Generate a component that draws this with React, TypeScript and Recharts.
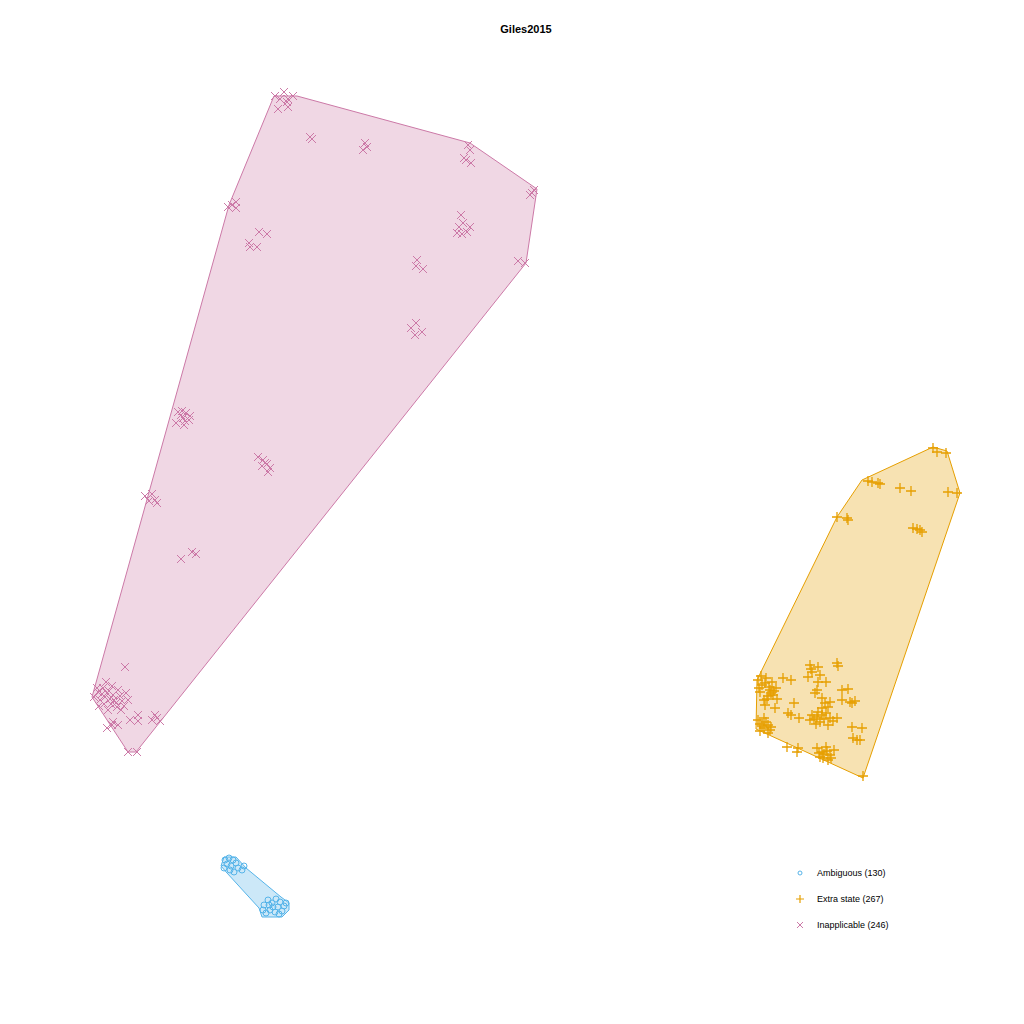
import React from "react";
import { ScatterChart, Scatter, XAxis, YAxis } from "recharts";

// coordinates (0..1024 on both axes, y grows downward)
const ambiguousPoints = [
  { x: 225, y: 860 }, { x: 229, y: 858 }, { x: 233, y: 860 }, { x: 227, y: 864 },
  { x: 231, y: 866 }, { x: 236, y: 863 }, { x: 224, y: 868 }, { x: 238, y: 868 },
  { x: 242, y: 870 }, { x: 244, y: 866 }, { x: 230, y: 870 }, { x: 234, y: 872 },
  { x: 264, y: 905 }, { x: 268, y: 900 }, { x: 272, y: 903 }, { x: 276, y: 899 },
  { x: 280, y: 902 }, { x: 284, y: 906 }, { x: 270, y: 910 }, { x: 266, y: 913 },
  { x: 275, y: 912 }, { x: 282, y: 911 }, { x: 286, y: 903 }, { x: 278, y: 907 },
  { x: 263, y: 910 }, { x: 273, y: 907 }, { x: 279, y: 914 }, { x: 269, y: 905 },
];
const ambiguousHull = [
  { x: 224, y: 857 }, { x: 236, y: 857 }, { x: 246, y: 868 }, { x: 281, y: 897 },
  { x: 289, y: 903 }, { x: 289, y: 910 }, { x: 282, y: 917 }, { x: 262, y: 917 },
  { x: 259, y: 908 }, { x: 227, y: 873 }, { x: 221, y: 866 }, { x: 224, y: 857 },
];

const extraStatePoints = [
  { x: 933, y: 448 }, { x: 937, y: 452 }, { x: 946, y: 453 },
  { x: 868, y: 481 }, { x: 872, y: 482 }, { x: 878, y: 483 }, { x: 880, y: 484 },
  { x: 900, y: 488 }, { x: 911, y: 491 }, { x: 948, y: 492 }, { x: 957, y: 493 },
  { x: 913, y: 528 }, { x: 917, y: 529 }, { x: 920, y: 530 }, { x: 922, y: 532 },
  { x: 837, y: 517 }, { x: 847, y: 518 }, { x: 848, y: 520 },
  { x: 758, y: 680 }, { x: 762, y: 685 }, { x: 766, y: 678 }, { x: 770, y: 690 },
  { x: 760, y: 692 }, { x: 768, y: 696 }, { x: 764, y: 700 }, { x: 772, y: 682 },
  { x: 776, y: 688 }, { x: 773, y: 695 }, { x: 777, y: 699 }, { x: 775, y: 708 },
  { x: 761, y: 676 }, { x: 765, y: 683 }, { x: 769, y: 687 }, { x: 759, y: 688 },
  { x: 771, y: 693 }, { x: 774, y: 691 }, { x: 767, y: 699 },
  { x: 765, y: 705 }, { x: 758, y: 720 }, { x: 762, y: 726 }, { x: 766, y: 722 },
  { x: 770, y: 730 }, { x: 760, y: 731 }, { x: 768, y: 733 }, { x: 764, y: 718 },
  { x: 760, y: 724 }, { x: 764, y: 728 }, { x: 768, y: 725 }, { x: 771, y: 727 },
  { x: 783, y: 678 }, { x: 791, y: 680 }, { x: 794, y: 703 }, { x: 788, y: 713 },
  { x: 791, y: 715 }, { x: 799, y: 718 },
  { x: 810, y: 665 }, { x: 812, y: 672 }, { x: 818, y: 667 }, { x: 820, y: 675 },
  { x: 808, y: 677 }, { x: 837, y: 663 }, { x: 838, y: 666 }, { x: 811, y: 669 },
  { x: 818, y: 682 }, { x: 817, y: 690 }, { x: 826, y: 682 }, { x: 815, y: 693 },
  { x: 822, y: 698 }, { x: 830, y: 702 }, { x: 825, y: 703 }, { x: 828, y: 707 },
  { x: 812, y: 715 }, { x: 817, y: 717 }, { x: 820, y: 722 }, { x: 810, y: 720 },
  { x: 822, y: 715 }, { x: 830, y: 718 }, { x: 837, y: 718 }, { x: 828, y: 725 },
  { x: 814, y: 719 }, { x: 818, y: 712 }, { x: 824, y: 719 }, { x: 826, y: 713 },
  { x: 833, y: 721 }, { x: 816, y: 724 }, { x: 822, y: 708 },
  { x: 842, y: 690 }, { x: 848, y: 689 }, { x: 842, y: 700 },
  { x: 850, y: 702 }, { x: 855, y: 701 }, { x: 852, y: 703 },
  { x: 852, y: 727 }, { x: 862, y: 728 },
  { x: 853, y: 738 }, { x: 860, y: 740 }, { x: 857, y: 740 },
  { x: 787, y: 747 }, { x: 798, y: 748 }, { x: 797, y: 752 },
  { x: 817, y: 748 }, { x: 822, y: 752 }, { x: 826, y: 747 }, { x: 830, y: 755 },
  { x: 820, y: 757 }, { x: 828, y: 760 }, { x: 834, y: 750 }, { x: 824, y: 754 },
  { x: 819, y: 753 }, { x: 827, y: 751 }, { x: 831, y: 758 }, { x: 823, y: 758 },
  { x: 863, y: 776 },
];
const extraStateHull = [
  { x: 933, y: 447 }, { x: 947, y: 451 }, { x: 960, y: 493 }, { x: 863, y: 778 },
  { x: 756, y: 729 }, { x: 757, y: 680 }, { x: 837, y: 517 }, { x: 862, y: 480 },
  { x: 933, y: 447 },
];

const inapplicablePoints = [
  { x: 275, y: 96 }, { x: 284, y: 92 }, { x: 288, y: 99 }, { x: 293, y: 96 },
  { x: 278, y: 109 }, { x: 288, y: 107 }, { x: 280, y: 99 }, { x: 287, y: 102 },
  { x: 310, y: 137 }, { x: 312, y: 139 },
  { x: 365, y: 143 }, { x: 363, y: 150 }, { x: 367, y: 147 },
  { x: 468, y: 145 }, { x: 470, y: 150 }, { x: 464, y: 158 }, { x: 471, y: 163 },
  { x: 466, y: 160 },
  { x: 534, y: 190 }, { x: 532, y: 193 }, { x: 530, y: 195 },
  { x: 228, y: 207 }, { x: 236, y: 202 }, { x: 236, y: 208 }, { x: 232, y: 205 },
  { x: 259, y: 232 }, { x: 267, y: 234 }, { x: 249, y: 243 }, { x: 250, y: 247 },
  { x: 257, y: 247 },
  { x: 461, y: 215 }, { x: 463, y: 223 }, { x: 459, y: 227 }, { x: 470, y: 227 },
  { x: 457, y: 233 }, { x: 462, y: 234 }, { x: 467, y: 232 },
  { x: 417, y: 260 }, { x: 416, y: 266 }, { x: 423, y: 269 },
  { x: 518, y: 261 }, { x: 525, y: 263 },
  { x: 416, y: 323 }, { x: 411, y: 328 }, { x: 422, y: 332 }, { x: 415, y: 335 },
  { x: 178, y: 412 }, { x: 186, y: 413 }, { x: 183, y: 418 }, { x: 189, y: 420 },
  { x: 176, y: 423 }, { x: 184, y: 425 }, { x: 181, y: 415 }, { x: 190, y: 416 },
  { x: 185, y: 421 }, { x: 182, y: 411 },
  { x: 258, y: 457 }, { x: 263, y: 460 }, { x: 267, y: 464 }, { x: 262, y: 466 },
  { x: 270, y: 468 }, { x: 268, y: 472 }, { x: 265, y: 463 },
  { x: 145, y: 496 }, { x: 152, y: 494 }, { x: 155, y: 500 }, { x: 149, y: 501 },
  { x: 157, y: 503 },
  { x: 181, y: 559 }, { x: 192, y: 552 }, { x: 196, y: 554 },
  { x: 125, y: 667 },
  { x: 94, y: 697 }, { x: 98, y: 692 }, { x: 103, y: 688 }, { x: 107, y: 693 },
  { x: 110, y: 699 }, { x: 112, y: 686 }, { x: 116, y: 703 }, { x: 120, y: 696 },
  { x: 124, y: 706 }, { x: 128, y: 700 }, { x: 104, y: 704 }, { x: 99, y: 706 },
  { x: 108, y: 710 }, { x: 118, y: 690 }, { x: 126, y: 693 }, { x: 100, y: 700 },
  { x: 113, y: 695 }, { x: 121, y: 710 }, { x: 106, y: 682 }, { x: 97, y: 688 },
  { x: 105, y: 697 }, { x: 109, y: 691 }, { x: 114, y: 700 }, { x: 117, y: 707 },
  { x: 102, y: 694 }, { x: 111, y: 704 }, { x: 122, y: 701 },
  { x: 112, y: 725 }, { x: 107, y: 728 }, { x: 118, y: 725 }, { x: 113, y: 722 },
  { x: 130, y: 720 }, { x: 138, y: 715 }, { x: 138, y: 721 }, { x: 152, y: 720 },
  { x: 157, y: 718 }, { x: 160, y: 721 }, { x: 155, y: 715 },
  { x: 128, y: 752 }, { x: 137, y: 752 },
];
const inapplicableHull = [
  { x: 274, y: 96 }, { x: 297, y: 96 }, { x: 470, y: 143 }, { x: 537, y: 189 },
  { x: 526, y: 263 }, { x: 136, y: 752 }, { x: 128, y: 752 }, { x: 92, y: 697 },
  { x: 229, y: 205 }, { x: 274, y: 96 },
];

const BLUE = "#56B4E9";
const ORANGE = "#E69F00";
const PINK = "#CC79A7";

const Circle = (props: any) => (
  <circle cx={props.cx} cy={props.cy} r={3} fill="none" stroke={BLUE} strokeWidth={1} />
);
const Plus = (props: any) => {
  const { cx, cy } = props;
  return (
    <path d={`M${cx - 5},${cy}H${cx + 5}M${cx},${cy - 5}V${cy + 5}`} stroke={ORANGE} strokeWidth={1.3} fill="none" />
  );
};
const Cross = (props: any) => {
  const { cx, cy } = props;
  return (
    <path d={`M${cx - 4},${cy - 4}L${cx + 4},${cy + 4}M${cx - 4},${cy + 4}L${cx + 4},${cy - 4}`} stroke={PINK} strokeWidth={1} fill="none" />
  );
};
const NoShape = () => <g />;

const legendItems = [
  { label: "Ambiguous (130)", color: BLUE, kind: "circle" },
  { label: "Extra state (267)", color: ORANGE, kind: "plus" },
  { label: "Inapplicable (246)", color: PINK, kind: "cross" },
];

export default function App() {
  return (
    <div style={{ position: "absolute", left: 0, top: 0, width: 1024, height: 1024, background: "#fff", fontFamily: "'Liberation Sans', Arial, sans-serif" }}>
      <div style={{ position: "absolute", left: 0, width: 1052, top: 23, textAlign: "center", fontWeight: "bold", fontSize: 11 }}>
        Giles2015
      </div>
      <ScatterChart width={1024} height={1024} margin={{ top: 0, right: 0, bottom: 0, left: 0 }}>
        <XAxis type="number" dataKey="x" domain={[0, 1024]} hide />
        <YAxis type="number" dataKey="y" domain={[0, 1024]} reversed hide />
        <Scatter data={inapplicableHull} line={{ stroke: PINK, strokeWidth: 1, fill: PINK, fillOpacity: 0.3 }} shape={NoShape} isAnimationActive={false} legendType="none" />
        <Scatter data={extraStateHull} line={{ stroke: ORANGE, strokeWidth: 1, fill: ORANGE, fillOpacity: 0.3 }} shape={NoShape} isAnimationActive={false} legendType="none" />
        <Scatter data={ambiguousHull} line={{ stroke: BLUE, strokeWidth: 1, fill: BLUE, fillOpacity: 0.3 }} shape={NoShape} isAnimationActive={false} legendType="none" />
        <Scatter name="Inapplicable" data={inapplicablePoints} shape={Cross} isAnimationActive={false} />
        <Scatter name="Extra state" data={extraStatePoints} shape={Plus} isAnimationActive={false} />
        <Scatter name="Ambiguous" data={ambiguousPoints} shape={Circle} isAnimationActive={false} />
      </ScatterChart>
      <div style={{ position: "absolute", left: 794, top: 860, fontSize: 9 }}>
        {legendItems.map((it) => (
          <div key={it.label} style={{ display: "flex", alignItems: "center", height: 26 }}>
            <svg width={14} height={14} style={{ marginRight: 9 }}>
              {it.kind === "circle" && <circle cx={6} cy={7} r={2} fill="none" stroke={it.color} />}
              {it.kind === "plus" && <path d="M2,7H10M6,3V11" stroke={it.color} strokeWidth={1.2} />}
              {it.kind === "cross" && <path d="M3,4L9,10M3,10L9,4" stroke={it.color} />}
            </svg>
            <span>{it.label}</span>
          </div>
        ))}
      </div>
    </div>
  );
}
